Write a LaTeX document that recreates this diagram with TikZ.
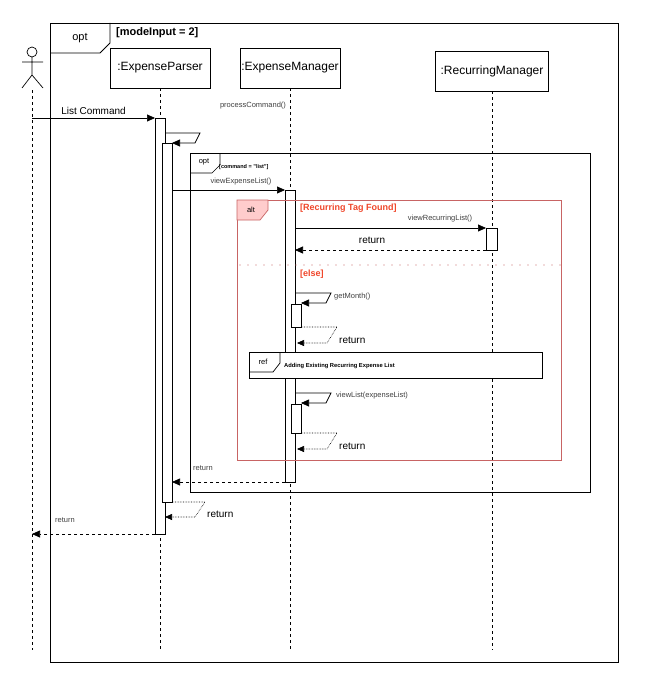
\documentclass[tikz,border=0pt]{standalone}
\usepackage{fontspec}
\setmainfont{Liberation Sans}
\usetikzlibrary{arrows.meta}
\definecolor{rlab}{HTML}{F0462A}
\definecolor{rframe}{HTML}{C86464}
\begin{document}
\begin{tikzpicture}[x=1pt,y=-1pt,
  obj/.style={draw,fill=white,minimum width=100pt,minimum height=40pt,font=\fontsize{12}{14}\selectfont,inner sep=0pt},
  act/.style={draw,fill=white},
  life/.style={dashed,line width=0.6pt},
  msg/.style={-{Triangle[length=8pt,width=7pt]},line width=0.7pt},
  ret/.style={-{Triangle[length=8pt,width=7pt]},dashed,line width=0.7pt},
  dret/.style={-{Triangle[length=7pt,width=6pt]},densely dotted,line width=0.6pt},
  small/.style={font=\fontsize{7.5}{8}\selectfont,text=black!75,inner sep=1pt},
  lab/.style={font=\fontsize{10}{12}\selectfont,inner sep=1pt}
]
\useasboundingbox (0,0) rectangle (648,685);
\fill[white] (0,0) rectangle (648,685);
% outer opt
\draw[line width=0.8pt] (50,23) rectangle (618,662);
\draw[line width=0.8pt] (50,53) -- (100,53) -- (110,43) -- (110,23);
\node[lab,font=\fontsize{11}{13}\selectfont] (optA) at (80,38) {opt};
\node[lab,anchor=west,font=\bfseries\fontsize{11}{13}\selectfont] (g1) at (115,33) {[modeInput = 2]};
% actor
\draw[line width=0.7pt] (32,52) circle (5);
\draw[line width=0.7pt] (32,57) -- (32,75) (22,62) -- (43,62) (22,88) -- (32,75) -- (43,88);
\coordinate (actB) at (32,90);
\coordinate (actE) at (32,650);
\draw[life] (actB) -- (actE);
% objects
\node[obj] (ep) at (160,68) {:ExpenseParser};
\node[obj] (em) at (290,68) {:ExpenseManager};
\node[obj,minimum width=113pt] (rm) at (492,71) {:RecurringManager};
\coordinate (epE) at (160,650);
\coordinate (emE) at (290,650);
\coordinate (rmE) at (492,650);
\draw[life] (ep.south) -- (epE);
\draw[life] (em.south) -- (emE);
\draw[life] (rm.south) -- (rmE);
\node[small] (pc) at (253,106) {processCommand()};
% EP activations
\draw[act] (155,118) rectangle (165,534);
\draw[act] (162,143) rectangle (172,502);
\coordinate (a0) at (32,118); \coordinate (a1) at (155,118);
\draw[msg] (a0) -- node[lab,above=2pt] {List Command} (a1);
% self call
\coordinate (s0) at (165,133); \coordinate (s1) at (172,143);
\draw[msg] (s0) -- (200,133) -- (195,143) -- (s1);
% inner opt
\draw[line width=0.7pt] (190,153) rectangle (590,492);
\draw[line width=0.7pt] (190,173) -- (212,173) -- (220,165) -- (220,153);
\node[small,text=black] (optB) at (204,162) {opt};
\node[anchor=west,inner sep=0pt,font=\bfseries\fontsize{5.5}{6}\selectfont] (g2) at (219,167) {[command = "list"]};
% EM activation
\draw[act] (285,190) rectangle (295,482);
\coordinate (v0) at (172,190); \coordinate (v1) at (285,190);
\draw[msg] (v0) -- (v1);
\node[small] (vel) at (241,182) {viewExpenseList()};
% alt frame
\draw[draw=rframe,line width=0.7pt] (237,200) rectangle (561,460);
\draw[draw=rframe,fill=red!20,line width=0.7pt] (237,200) -- (237,220) -- (260,220) -- (268,210) -- (268,200) -- cycle;
\node[small,text=black] (altl) at (251,210) {alt};
\node[anchor=west,inner sep=0pt,text=rlab,font=\bfseries\fontsize{9}{10}\selectfont] (g3) at (300,208) {[Recurring Tag Found]};
% RM activation
\draw[act] (486,228) rectangle (497,250);
\coordinate (r0) at (295,228); \coordinate (r1) at (486,228);
\draw[msg] (r0) -- (r1);
\node[small] (vrl) at (440,219) {viewRecurringList()};
\coordinate (r2) at (486,250); \coordinate (r3) at (295,250);
\draw[ret] (r2) -- (r3);
\node[lab] (rt1) at (372,240) {return};
\draw[rframe,line width=1.3pt,line cap=round,dash pattern=on 0pt off 8pt] (240,265) -- (561,265);
\node[anchor=west,inner sep=0pt,text=rlab,font=\bfseries\fontsize{9}{10}\selectfont] (g4) at (300,274) {[else]};
% getMonth
\draw[act] (291,304) rectangle (301,327);
\coordinate (m0) at (295,293); \coordinate (m1) at (301,303);
\draw[msg] (m0) -- (331,293) -- (326,303) -- (m1);
\node[small,anchor=west] (gm) at (333,297) {getMonth()};
\coordinate (m2) at (301,327); \coordinate (m3) at (297,343);
\draw[dret] (m2) -- (337,327) -- (327,343) -- (m3);
\node[lab,anchor=west] (rt2) at (338,340) {return};
% ref
\draw[fill=white,line width=0.8pt] (249,352) rectangle (542,378);
\draw[line width=0.7pt] (249,372) -- (273,372) -- (280,363) -- (280,352);
\node[small,text=black] (refl) at (263,362) {ref};
\node[anchor=west,inner sep=0pt,font=\bfseries\fontsize{5.8}{6}\selectfont] (refT) at (284,366) {Adding Existing Recurring Expense List};
% viewList
\draw[act] (291,404) rectangle (301,433);
\coordinate (l0) at (295,393); \coordinate (l1) at (301,403);
\draw[msg] (l0) -- (331,393) -- (326,403) -- (l1);
\node[small,anchor=west] (vl) at (335,396) {viewList(expenseList)};
\coordinate (l2) at (301,433); \coordinate (l3) at (297,449);
\draw[dret] (l2) -- (337,433) -- (327,449) -- (l3);
\node[lab,anchor=west] (rt3) at (338,446) {return};
% return EM -> EP
\coordinate (e0) at (285,482); \coordinate (e1) at (172,482);
\draw[ret] (e0) -- (e1);
\node[small,anchor=west] (rt4) at (192,468) {return};
% return inner EP
\coordinate (p0) at (172,502); \coordinate (p1) at (165,517);
\draw[dret] (p0) -- (205,502) -- (195,517) -- (p1);
\node[lab,anchor=west] (rt5) at (206,514) {return};
% return to actor
\coordinate (q0) at (155,534); \coordinate (q1) at (32,534);
\draw[ret] (q0) -- (q1);
\node[small,anchor=west] (rt6) at (54,520) {return};
\end{tikzpicture}
\end{document}
